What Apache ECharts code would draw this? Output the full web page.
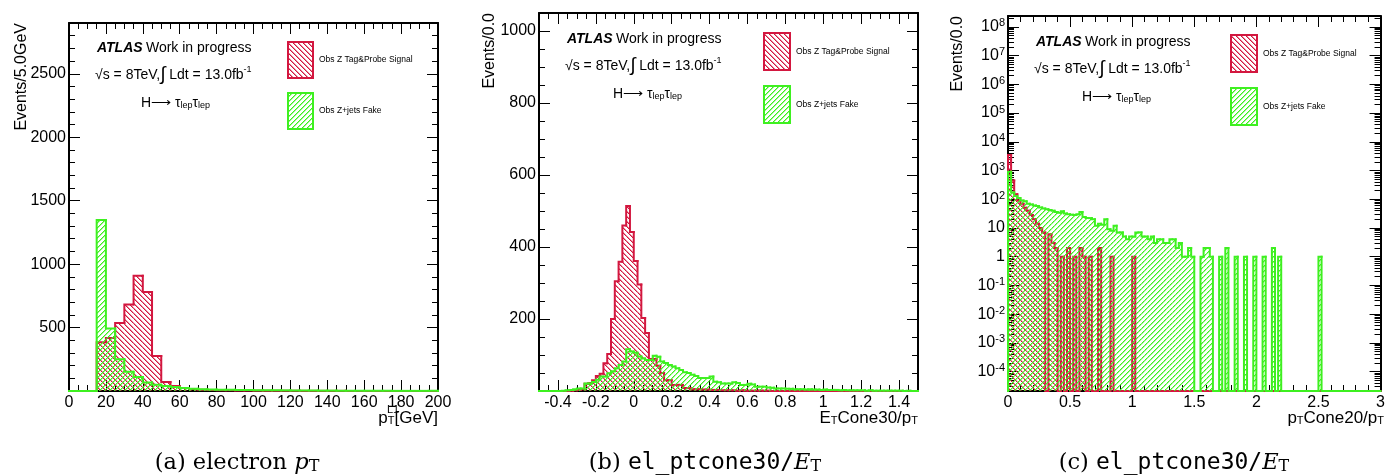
<!DOCTYPE html>
<html><head><meta charset="utf-8">
<script src="https://cdn.jsdelivr.net/npm/echarts@6/dist/echarts.min.js"></script>
<style>html,body{margin:0;padding:0;background:#fff}#c{width:1388px;height:475px}</style>
</head><body><div id="c"></div>
<script>
// ---------------- DATA ----------------
// (a) electron pT : bins of 5 GeV from 0 to 200
const binsA = { start: 0, width: 5 };
const signalA = [0,0,0,384,418,536,682,908,781,276, 70,39,23,15,10,8,6,5,4,3, 3,2,2,2,1,1,1,1,1,1, 0,0,0,0,0,0,0,0,0,0];
const fakeA   = [0,0,0,1347,492,250,152,110,66,50, 39,31,23,18,13,11,10,9,8,7, 6,6,5,5,4,4,3,3,3,2, 2,2,2,2,1,1,1,1,1,1];

// (b) ETCone30/pT : bins of 0.02 from -0.5 to 1.5
const binsB = { start: -0.5, width: 0.02 };
const signalB = [0,0,0,0,0,0,0,0,1,2, 3,5,20,22,30,42,48,77,103,200, 305,359,460,514,442,361,296,203,161,89,
  89,70,50,30,30,17,17,17,8,8, 5,5,5,4,4,3,3,3,2,2, 2,2,1,2,1,1,1,1,1,1,
  1,0,0,0,0,0,0,0,0,0, 0,0,0,0,0,0,0,0,0,0, 0,0,0,0,0,0,0,0,0,0, 0,0,0,0,0,0,0,0,0,0];
const fakeB = [0,0,0,0,0,0,1,2,3,5, 7,7,21,21,25,31,40,40,49,55, 63,72,82,116,110,106,96,90,86,86,
  98,95,82,78,72,68,63,58,52,50, 45,42,36,36,36,40,26,24,21,21, 21,24,22,17,17,20,18,12,12,12,
  10,9,7,7,7,6,6,5,5,5, 4,5,4,4,3,4,3,3,3,2, 3,2,2,2,2,2,1,2,1,1, 1,1,1,1,1,1,0,1,0,0];

// (c) pTCone20/pT : bins of 0.025 from 0 to 3 (log scale)
const binsC = { start: 0, width: 0.025 };
const signalC = [3500,450,150,90,70,50,40,28,20,14, 10,7,0,6,3,2,0,1,0,2, 0,1,0,2,1,0,1,0,0,2,
  0,0,0,1,0,0,0,0,0,0, 1,0,0,0,0,0,0,0,0,0, 0,0,0,0,0,0,0,0,0,0,
  0,0,0,0,0,0,0,0,0,0, 0,0,0,0,0,0,0,0,0,0, 0,0,0,0,0,0,0,0,0,0,
  0,0,0,0,0,0,0,0,0,0, 0,0,0,0,0,0,0,0,0,0, 0,0,0,0,0,0,0,0,0,0];
const fakeC = [900,170,130,110,90,85,70,65,60,58, 52,48,45,42,40,36,34,38,32,30,
  29,28,30,36,24,22,22,20,12,14, 13,20,9,8,12,7,7,5,4,5,
  5,7,7,5,5,4,5,3,4,4, 3,3,4,4,2,3,1,1,2,1,
  0,0,1,2,2,1,0,0,1,0, 2,0,0,1,0,0,1,0,0,1, 0,0,1,0,0,2,0,1,0,0,
  0,0,0,0,0,0,0,0,0,0, 1,0,0,0,0,0,0,0,0,0, 0,0,0,0,0,0,0,0,0,0];
const logMajorC = [-4,-3,-2,-1,0,1,2,3,4,5,6,7,8];

const seriesNames = ['Obs Z Tag&Probe Signal', 'Obs Z+jets Fake'];
const yTitles = ['Events/5.0GeV', 'Events/0.0', 'Events/0.0'];

// ---------------- STYLE / LAYOUT ----------------
const RED = '#d3173f', GREEN = '#3ef020';
const FONT = 'Liberation Sans';
const P = [
  { left: 69, top: 23, width: 369, height: 368 },
  { left: 539, top: 13, width: 379, height: 378 },
  { left: 1008, top: 16, width: 376, height: 375 }
];
const C_MIN = 2.1e-5, C_MAX = 2.4e8;

function hatch(color, dir) {
  const s = 5, cv = document.createElement('canvas');
  cv.width = s; cv.height = s;
  const g = cv.getContext('2d');
  g.fillStyle = color;
  for (let i = 0; i < s; i++) {
    const x = dir > 0 ? i : s - 1 - i;
    g.globalAlpha = 1; g.fillRect(x, i, 1, 1);
    g.globalAlpha = 0.5; g.fillRect((x + 1) % s, i, 1, 1);
  }
  return { image: cv, repeat: 'repeat' };
}
const patRed = hatch(RED, 1), patGreen = hatch(GREEN, -1);

function hist(xi, yi, bins, values, color, pat, base, z) {
  const n = values.length;
  const data = values.map((v, i) => [bins.start + i * bins.width, bins.start + (i + 1) * bins.width, v, i > 0 ? values[i - 1] : 0, i]);
  return {
    type: 'custom', xAxisIndex: xi, yAxisIndex: yi, z: z, silent: true, animation: false,
    data: data,
    renderItem: function (params, api) {
      const lo = api.value(0), hi = api.value(1), v = api.value(2), pv = api.value(3), idx = api.value(4);
      const yv = v > 0 ? v : base, yp = pv > 0 ? pv : base;
      const a = api.coord([lo, yv]), b = api.coord([hi, yv]), bb = api.coord([lo, base]), pp = api.coord([lo, yp]);
      const ch = [];
      if (v > 0) ch.push({ type: 'rect', shape: { x: a[0], y: a[1], width: b[0] - a[0], height: bb[1] - a[1] }, style: { fill: pat } });
      const pts = [pp, a, b];
      if (idx === n - 1) pts.push(api.coord([hi, base]));
      ch.push({ type: 'polyline', shape: { points: pts }, style: { stroke: color, lineWidth: 2, fill: null, lineJoin: 'miter', lineCap: 'square' } });
      return { type: 'group', children: ch };
    }
  };
}

const lineS = { show: true, onZero: false, lineStyle: { color: '#000', width: 2 } };
const fmt = function (v) { return String(v); };
const lblS = { fontFamily: FONT, fontSize: 16, color: '#000', formatter: fmt };
const tickS = { color: '#000', width: 1 };
function xAx(g, min, max, interval, split, showLbl, pos) {
  const o = { gridIndex: g, type: 'value', min: min, max: max, position: pos, axisLine: lineS,
    axisTick: { show: true, inside: true, length: 11, lineStyle: tickS },
    minorTick: { show: true, splitNumber: split, length: 6, lineStyle: tickS },
    splitLine: { show: false },
    axisLabel: Object.assign({ show: showLbl, margin: 4, showMinLabel: g !== 1, showMaxLabel: g !== 1 }, lblS) };
  if (interval != null) o.interval = interval; else o.splitNumber = 10;
  return o;
}
function yAx(g, min, max, interval, split, showLbl, pos) {
  return { gridIndex: g, type: 'value', min: min, max: max, interval: interval, position: pos, axisLine: lineS,
    axisTick: { show: true, inside: true, length: 11, lineStyle: tickS },
    minorTick: { show: true, splitNumber: split, length: 6, lineStyle: tickS },
    splitLine: { show: false },
    axisLabel: Object.assign({ show: showLbl, margin: 3, showMinLabel: false, showMaxLabel: false }, lblS) };
}
const lmin = Math.log10(C_MIN), lmax = Math.log10(C_MAX);
const logMinorC = [];
for (let e = -5; e <= 8; e++) for (let k = 2; k <= 9; k++) { const v = e + Math.log10(k); if (v > lmin && v < lmax) logMinorC.push(v); }
function logOverlay(pos, major, lbl) {
  return { gridIndex: 2, type: 'value', min: lmin, max: lmax, position: pos,
    axisLine: major ? lineS : { show: false, onZero: false },
    axisTick: { show: true, inside: true, length: major ? 11 : 6, customValues: major ? logMajorC : logMinorC, lineStyle: tickS },
    splitLine: { show: false },
    axisLabel: lbl ? { show: true, margin: 3, customValues: logMajorC,
      formatter: function (v) { const n = Math.round(v); if (n === 0) return '{m|1}'; if (n === 1) return '{m|10}'; return '{m|10}{s|' + n + '}'; },
      rich: { m: { fontFamily: FONT, fontSize: 16, color: '#000', lineHeight: 18 }, s: { fontFamily: FONT, fontSize: 11, color: '#000', verticalAlign: 'top', lineHeight: 11 } } } : { show: false } };
}

// ---------------- GRAPHICS (texts, legends) ----------------
const graphics = [];
const richAtlas = {
  at: { fontFamily: FONT, fontSize: 14, fontWeight: 'bold', fontStyle: 'italic', fill: '#000' },
  n: { fontFamily: FONT, fontSize: 14, fill: '#000' },
  big: { fontFamily: FONT, fontSize: 19, fill: '#000' },
  sup: { fontFamily: FONT, fontSize: 9, fill: '#000', verticalAlign: 'top' },
  sub: { fontFamily: FONT, fontSize: 9, fill: '#000', verticalAlign: 'bottom' }
};
const atlasOff = [[28, 25, 72], [28, 26, 74], [28, 26, 74]];
const legRight = [150, 154, 153];
const legDy = [[19, 70, 36, 25], [20, 73, 37, 26], [19, 72, 37, 26]];
const yTitleX = [22, 490, 958];
P.forEach(function (p, i) {
  const x0 = p.left + atlasOff[i][0];
  graphics.push({ type: 'text', x: x0, y: p.top + atlasOff[i][1], style: { text: '{at|ATLAS} {n|Work in progress}', rich: richAtlas, verticalAlign: 'middle' } });
  graphics.push({ type: 'text', x: x0 - 2, y: p.top + atlasOff[i][1] + 27, style: { text: '{n|√s = 8TeV,}{big|∫}{n| Ldt = 13.0fb}{sup|-1}', rich: richAtlas, verticalAlign: 'middle' } });
  graphics.push({ type: 'text', x: p.left + atlasOff[i][2], y: p.top + atlasOff[i][1] + 55, style: { text: '{n|H⟶ τ}{sub|lep}{n|τ}{sub|lep}', rich: richAtlas, verticalAlign: 'middle' } });
  // legend
  const lx = p.left + p.width - legRight[i];
  const pats = [patRed, patGreen], cols = [RED, GREEN];
  for (let k = 0; k < 2; k++) {
    const ly = p.top + legDy[i][k];
    graphics.push({ type: 'rect', shape: { x: lx, y: ly, width: legDy[i][3], height: legDy[i][2] }, style: { fill: pats[k], stroke: cols[k], lineWidth: 2 } });
    graphics.push({ type: 'text', x: lx + legDy[i][3] + 6, y: ly + legDy[i][2] / 2, style: { text: seriesNames[k], font: '8.5px ' + FONT, fill: '#000', verticalAlign: 'middle' } });
  }
  // y title
  graphics.push({ type: 'text', x: yTitleX[i], y: p.top, rotation: Math.PI / 2, style: { text: yTitles[i], font: '16px ' + FONT, fill: '#000', align: 'right', verticalAlign: 'middle' } });
});
const richT = {
  n: { fontFamily: FONT, fontSize: 17, fill: '#000' },
  sub: { fontFamily: FONT, fontSize: 11, fill: '#000', verticalAlign: 'bottom' },
  sup: { fontFamily: FONT, fontSize: 11, fill: '#000', verticalAlign: 'top' }
};
graphics.push({ type: 'text', x: P[0].left + P[0].width, y: 418, style: { text: '{n|p}{sub|T}{n|[GeV]}', rich: richT, align: 'right', verticalAlign: 'middle' } });
graphics.push({ type: 'text', x: P[0].left + P[0].width - 51, y: 410, style: { text: 'L1', font: '11px ' + FONT, fill: '#000', verticalAlign: 'middle' } });
graphics.push({ type: 'text', x: P[1].left + P[1].width, y: 418, style: { text: '{n|E}{sub|T}{n|Cone30/p}{sub|T}', rich: richT, align: 'right', verticalAlign: 'middle' } });
graphics.push({ type: 'text', x: P[2].left + P[2].width, y: 418, style: { text: '{n|p}{sub|T}{n|Cone20/p}{sub|T}', rich: richT, align: 'right', verticalAlign: 'middle' } });
const richCap = {
  r: { fontFamily: 'DejaVu Serif', fontSize: 22.5, fill: '#000' },
  i: { fontFamily: 'DejaVu Serif', fontSize: 22.5, fontStyle: 'italic', fill: '#000' },
  tt: { fontFamily: 'DejaVu Sans Mono', fontSize: 23, fill: '#000' },
  sub: { fontFamily: 'DejaVu Serif', fontSize: 16, fill: '#000', verticalAlign: 'bottom' }
};
const caps = ['{r|(a) electron }{i|p}{sub|T}', '{r|(b) }{tt|el_ptcone30/}{i|E}{sub|T}', '{r|(c) }{tt|el_ptcone30/}{i|E}{sub|T}'];
const capX = [237, 705, 1174];
caps.forEach(function (c, i) { graphics.push({ type: 'text', x: capX[i], y: 463, style: { text: c, rich: richCap, align: 'center', verticalAlign: 'middle' } }); });

// ---------------- OPTION ----------------
const option = {
  animation: false,
  backgroundColor: '#fff',
  grid: P.map(function (p) { return { left: p.left, top: p.top, width: p.width, height: p.height, containLabel: false }; }),
  xAxis: [
    xAx(0, 0, 200, 20, 4, true, 'bottom'), xAx(0, 0, 200, 20, 4, false, 'top'),
    xAx(1, -0.5, 1.5, null, 4, true, 'bottom'), xAx(1, -0.5, 1.5, null, 4, false, 'top'),
    xAx(2, 0, 3, 0.5, 5, true, 'bottom'), xAx(2, 0, 3, 0.5, 5, false, 'top')
  ],
  yAxis: [
    yAx(0, 0, 2900, 500, 5, true, 'left'), yAx(0, 0, 2900, 500, 5, false, 'right'),
    yAx(1, 0, 1050, 200, 4, true, 'left'), yAx(1, 0, 1050, 200, 4, false, 'right'),
    { gridIndex: 2, type: 'log', logBase: 10, min: C_MIN, max: C_MAX, show: false, axisLine: { onZero: false } },
    logOverlay('left', true, true), logOverlay('left', false, false),
    logOverlay('right', true, false), logOverlay('right', false, false)
  ],
  series: [
    hist(0, 0, binsA, signalA, RED, patRed, 0, 2), hist(0, 0, binsA, fakeA, GREEN, patGreen, 0, 3),
    hist(2, 2, binsB, signalB, RED, patRed, 0, 2), hist(2, 2, binsB, fakeB, GREEN, patGreen, 0, 3),
    hist(4, 4, binsC, signalC, RED, patRed, C_MIN, 2), hist(4, 4, binsC, fakeC, GREEN, patGreen, C_MIN, 3)
  ],
  graphic: graphics
};
const chart = echarts.init(document.getElementById('c'), null, { renderer: 'canvas' });
chart.setOption(option);
</script></body></html>
